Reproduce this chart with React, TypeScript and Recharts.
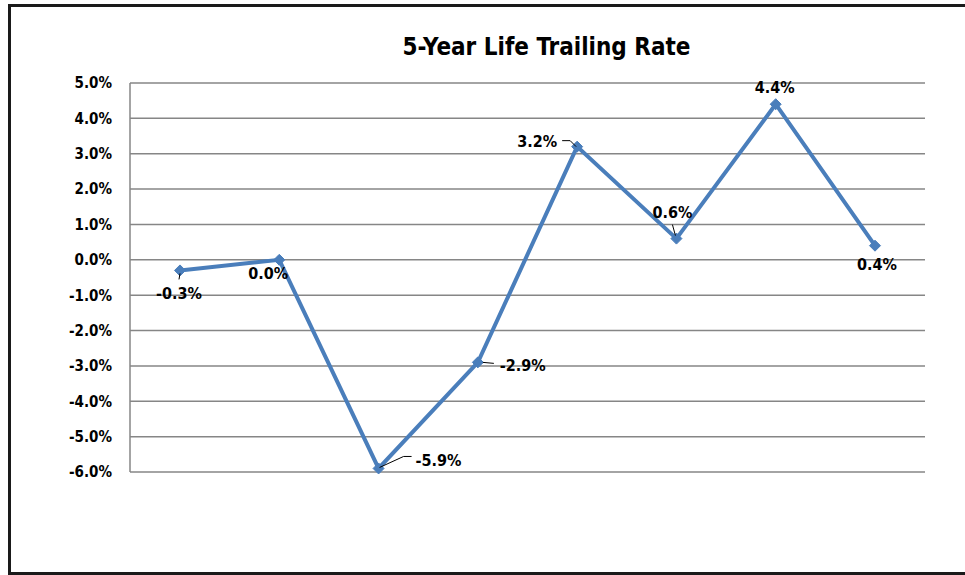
import { LineChart, Line, XAxis, YAxis, CartesianGrid, LabelList } from 'recharts';

// Trailing rate per period (%)
const periods = ['P1', 'P2', 'P3', 'P4', 'P5', 'P6', 'P7', 'P8'];
const rates = [-0.3, 0.0, -5.9, -2.9, 3.2, 0.6, 4.4, 0.4];
const yTicks = [-6, -5, -4, -3, -2, -1, 0, 1, 2, 3, 4, 5];

const data = periods.map((p, i) => ({ name: p, rate: rates[i] }));

// label offsets relative to the point, plus optional leader line (relative points)
const labelStyle = [
    { dx: -1, dy: 23, anchor: 'middle', leader: [[0, 3], [-1, 9]] },
    { dx: -11, dy: 14, anchor: 'middle', leader: null },
    { dx: 37, dy: -8, anchor: 'start', leader: [[1, -1], [25, -12], [33, -12]] },
    { dx: 22, dy: 3, anchor: 'start', leader: [[5, 0], [16, 1]] },
    { dx: -20, dy: -5, anchor: 'end', leader: [[-15, -6], [-7, -6], [-1, 0]] },
    { dx: -4, dy: -26, anchor: 'middle', leader: [[-4, -14], [-1, -3]] },
    { dx: -1, dy: -17, anchor: 'middle', leader: null },
    { dx: 2, dy: 19, anchor: 'middle', leader: null },
];

const FONT = '"Liberation Sans Narrow", "DejaVu Sans Condensed", Arial, sans-serif';
const LINE_COLOR = '#4a7ebb';
const GRID = '#868686';

const fmt = (v: number) => `${v.toFixed(1)}%`;

function Diamond(props: any) {
    const { cx, cy } = props;
    if (cx == null || cy == null) return null;
    const r = 5.5;
    return (
        <polygon
            points={`${cx},${cy - r} ${cx + r},${cy} ${cx},${cy + r} ${cx - r},${cy}`}
            fill={LINE_COLOR}
            stroke={LINE_COLOR}
            strokeWidth={1}
        />
    );
}

function PointLabel(props: any) {
    const { x, y, value, index } = props;
    const s = labelStyle[index];
    if (!s) return null;
    return (
        <g>
            {s.leader && (
                <polyline
                    points={s.leader.map(([a, b]) => `${x + a},${y + b}`).join(' ')}
                    fill="none"
                    stroke="#000"
                    strokeWidth={1}
                />
            )}
            <text
                x={x + s.dx}
                y={y + s.dy}
                textAnchor={s.anchor}
                dominantBaseline="central"
                fontFamily={FONT}
                fontWeight="bold"
                fontSize={16}
                fill="#000"
            >
                {fmt(value)}
            </text>
        </g>
    );
}

export default function App() {
    return (
        <div style={{ position: 'absolute', left: 0, top: 0, width: 965, height: 575, background: '#fff', overflow: 'hidden' }}>
            {/* outer frame, right side runs off the picture */}
            <div style={{ position: 'absolute', left: 8, top: 4, width: 980, height: 565, borderLeft: '3px solid #1a1a1a', borderTop: '3px solid #1a1a1a', borderBottom: '3px solid #1a1a1a' }} />
            <div style={{ position: 'absolute', left: 0, top: 33, width: 1093, textAlign: 'center', fontFamily: FONT, fontWeight: 'bold', fontSize: 24, color: '#000' }}>
                5-Year Life Trailing Rate
            </div>
            <div style={{ position: 'absolute', left: 0, top: 0 }}>
                <LineChart width={965} height={575} data={data} margin={{ top: 83, right: 40, bottom: 103, left: 10 }}>
                    <CartesianGrid vertical={false} stroke={GRID} strokeWidth={1.5} />
                    <XAxis dataKey="name" hide padding={{ left: 50, right: 50 }} />
                    <YAxis
                        width={120}
                        domain={[-6, 5]}
                        ticks={yTicks}
                        interval={0}
                        tickFormatter={fmt}
                        axisLine={{ stroke: GRID, strokeWidth: 1.5 }}
                        tickLine={false}
                        tickSize={0}
                        tickMargin={18}
                        tick={{ fontFamily: FONT, fontWeight: 'bold', fontSize: 15, fill: '#000' }}
                    />
                    <Line
                        type="linear"
                        dataKey="rate"
                        stroke={LINE_COLOR}
                        strokeWidth={4}
                        dot={<Diamond />}
                        activeDot={false}
                        isAnimationActive={false}
                    >
                        <LabelList dataKey="rate" content={<PointLabel />} />
                    </Line>
                </LineChart>
            </div>
        </div>
    );
}
